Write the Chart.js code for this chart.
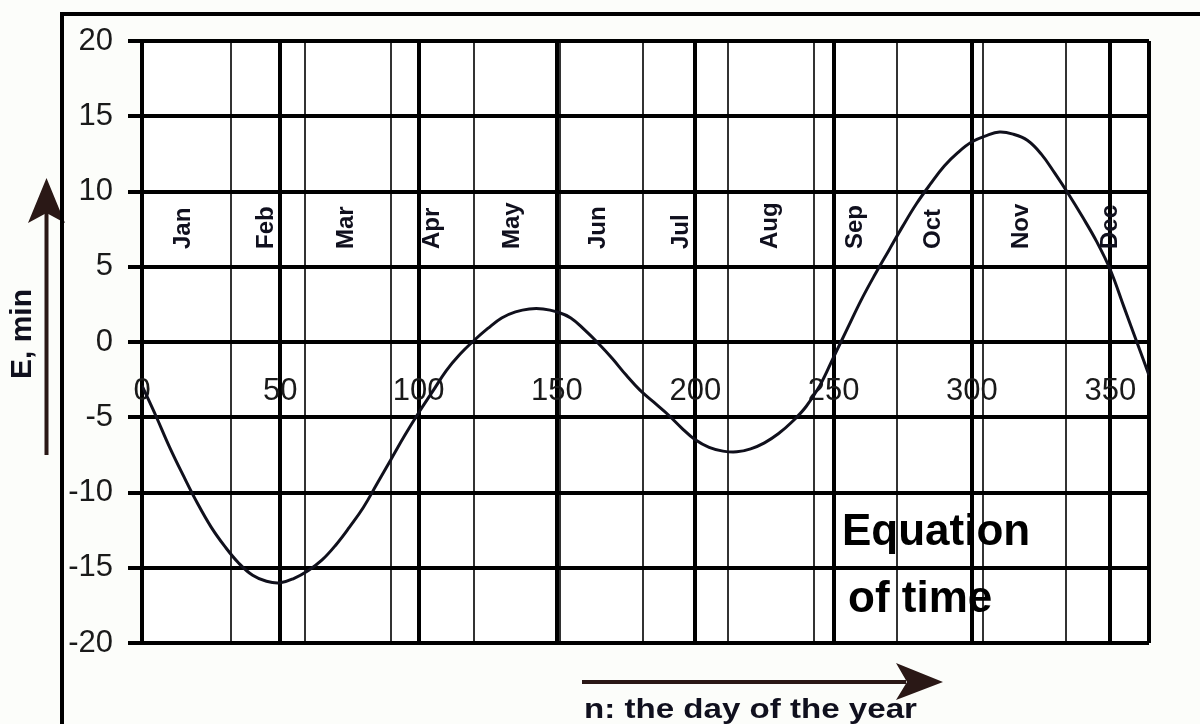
<!DOCTYPE html>
<html>
<head>
<meta charset="utf-8">
<title>Equation of time</title>
<script src="https://cdn.jsdelivr.net/npm/chart.js@4.4.1/dist/chart.umd.min.js"></script>
<style>
  html, body { margin: 0; padding: 0; background: #fcfdfa; }
  canvas { display: block; }
</style>
</head>
<body>
<canvas id="eot" width="1200" height="724"></canvas>
<script>
// Day of the year (n) and equation of time E in minutes
const days = [0, 5, 10, 15, 20, 25, 30, 35, 40, 45, 50, 55, 60, 65, 70, 75, 80, 85, 90, 95,
  100, 105, 110, 115, 120, 125, 130, 135, 140, 145, 150, 155, 160, 165, 170, 175, 180, 185, 190, 195,
  200, 205, 210, 215, 220, 225, 230, 235, 240, 245, 250, 255, 260, 265, 270, 275, 280, 285, 290, 295,
  300, 305, 310, 315, 320, 325, 330, 335, 340, 345, 350, 355, 360, 364];
const eqTime = [-2.9, -4.9, -7.0, -8.9, -10.7, -12.3, -13.6, -14.7, -15.5, -15.9, -16.0, -15.7, -15.2, -14.5, -13.5, -12.3, -11.0, -9.4, -7.8, -6.2,
  -4.7, -3.3, -1.9, -0.8, 0.1, 0.9, 1.6, 2.0, 2.2, 2.2, 2.0, 1.6, 0.8, -0.1, -1.1, -2.2, -3.2, -4.0, -4.8, -5.7,
  -6.5, -7.0, -7.25, -7.3, -7.1, -6.7, -6.1, -5.3, -4.3, -2.9, -1.0, 0.9, 2.8, 4.5, 6.1, 7.7, 9.2, 10.5, 11.7, 12.6,
  13.3, 13.7, 13.95, 13.8, 13.4, 12.5, 11.2, 9.8, 8.3, 6.7, 4.8, 2.3, -0.2, -2.2];

// Axis ticks
const dayTicks = [0, 50, 100, 150, 200, 250, 300, 350];
const monthStartDays = [32, 59, 90, 120, 151, 181, 212, 243, 273, 304, 334];
const yearEnd = 364;
const minuteTicks = [-20, -15, -10, -5, 0, 5, 10, 15, 20];

// Month names placed at mid-month
const monthNames = ['Jan', 'Feb', 'Mar', 'Apr', 'May', 'Jun', 'Jul', 'Aug', 'Sep', 'Oct', 'Nov', 'Dec'];
const monthMidDays = [15, 45, 74, 105, 134, 165, 195, 227, 258, 286, 318, 350];

const FONT = "'Liberation Sans', Arial, Helvetica, sans-serif";
const isMajor = v => dayTicks.includes(v) || v === yearEnd;

function polygon(ctx, pts) {
  ctx.beginPath();
  ctx.moveTo(pts[0][0], pts[0][1]);
  for (let i = 1; i < pts.length; i++) ctx.lineTo(pts[i][0], pts[i][1]);
  ctx.closePath();
  ctx.fill();
}

const decor = {
  id: 'decor',
  beforeDraw(chart) {
    const { ctx, chartArea: a } = chart;
    ctx.save();
    ctx.fillStyle = '#fcfdfa';
    ctx.fillRect(0, 0, chart.width, chart.height);
    ctx.fillStyle = '#ffffff';
    ctx.fillRect(a.left, a.top, a.right - a.left, a.bottom - a.top);
    ctx.restore();
  },
  beforeDatasetsDraw(chart) {
    const { ctx } = chart;
    const xs = chart.scales.x;
    ctx.save();
    // month names, rotated
    ctx.fillStyle = '#10101e';
    ctx.font = 'bold 24px ' + FONT;
    ctx.textAlign = 'left';
    ctx.textBaseline = 'middle';
    monthNames.forEach((name, i) => {
      ctx.save();
      ctx.translate(xs.getPixelForValue(monthMidDays[i]), 249);
      ctx.rotate(-Math.PI / 2);
      ctx.fillText(name, 0, 0);
      ctx.restore();
    });
    // caption
    ctx.fillStyle = '#000';
    ctx.font = 'bold 44px ' + FONT;
    ctx.textBaseline = 'alphabetic';
    ctx.fillText('Equation', 842, 545);
    ctx.fillText('of time', 848, 612);
    ctx.restore();
  },
  afterDraw(chart) {
    const { ctx } = chart;
    ctx.save();
    // vertical arrow for E
    ctx.fillStyle = '#2a1816';
    ctx.fillRect(44.5, 212, 4, 243);
    polygon(ctx, [[46.5, 178], [65, 223], [46.5, 213], [28, 223]]);
    // horizontal arrow for n
    ctx.fillRect(582, 680, 324, 4);
    polygon(ctx, [[943, 682], [896, 663], [907, 682], [896, 700]]);
    // outer frame
    ctx.fillStyle = '#000';
    ctx.fillRect(60, 12, 4, 712);
    ctx.fillRect(60, 12, 1140, 4);
    // axis titles
    ctx.fillStyle = '#10101e';
    ctx.font = 'bold 30px ' + FONT;
    ctx.textAlign = 'center';
    ctx.textBaseline = 'middle';
    ctx.save();
    ctx.translate(23, 334);
    ctx.rotate(-Math.PI / 2);
    ctx.fillText('E, min', 0, 0);
    ctx.restore();
    ctx.font = 'bold 27px ' + FONT;
    ctx.textAlign = 'left';
    ctx.textBaseline = 'alphabetic';
    ctx.translate(584, 718);
    ctx.scale(1.226, 1);
    ctx.fillText('n: the day of the year', 0, 0);
    ctx.restore();
  }
};

new Chart(document.getElementById('eot'), {
  type: 'scatter',
  data: {
    datasets: [{
      label: 'E',
      data: days.map((d, i) => ({ x: d, y: eqTime[i] })),
      showLine: true,
      borderColor: '#10101c',
      borderWidth: 3,
      pointRadius: 0,
      pointHoverRadius: 0,
      tension: 0.4,
      fill: false
    }]
  },
  options: {
    responsive: false,
    animation: false,
    devicePixelRatio: 1,
    events: [],
    layout: { padding: { left: 0, top: 41, right: 51, bottom: 81 } },
    plugins: { legend: { display: false }, tooltip: { enabled: false } },
    scales: {
      x: {
        type: 'linear',
        min: 0,
        max: yearEnd,
        position: { y: 0 },
        afterBuildTicks(scale) {
          const vals = [...dayTicks, ...monthStartDays, yearEnd].sort((a, b) => a - b);
          scale.ticks = vals.map(v => ({ value: v }));
        },
        ticks: {
          autoSkip: false,
          maxRotation: 0,
          minRotation: 0,
          padding: 31,
          color: '#1a1a1a',
          font: { family: FONT, size: 31 },
          callback: v => (dayTicks.includes(v) ? String(v) : '')
        },
        grid: {
          drawTicks: false,
          color: c => (c.tick && isMajor(c.tick.value) ? '#000' : '#333'),
          lineWidth: c => (c.tick && isMajor(c.tick.value) ? 4 : 2)
        },
        border: { display: false }
      },
      y: {
        type: 'linear',
        min: -20,
        max: 20,
        position: 'left',
        afterFit(scale) { scale.width = 142; },
        afterBuildTicks(scale) { scale.ticks = minuteTicks.map(v => ({ value: v })); },
        ticks: {
          autoSkip: false,
          padding: 15,
          color: '#1a1a1a',
          font: { family: FONT, size: 31 }
        },
        grid: { color: '#000', lineWidth: 4, tickLength: 14 },
        border: { display: false }
      }
    }
  },
  plugins: [decor]
});
</script>
</body>
</html>
